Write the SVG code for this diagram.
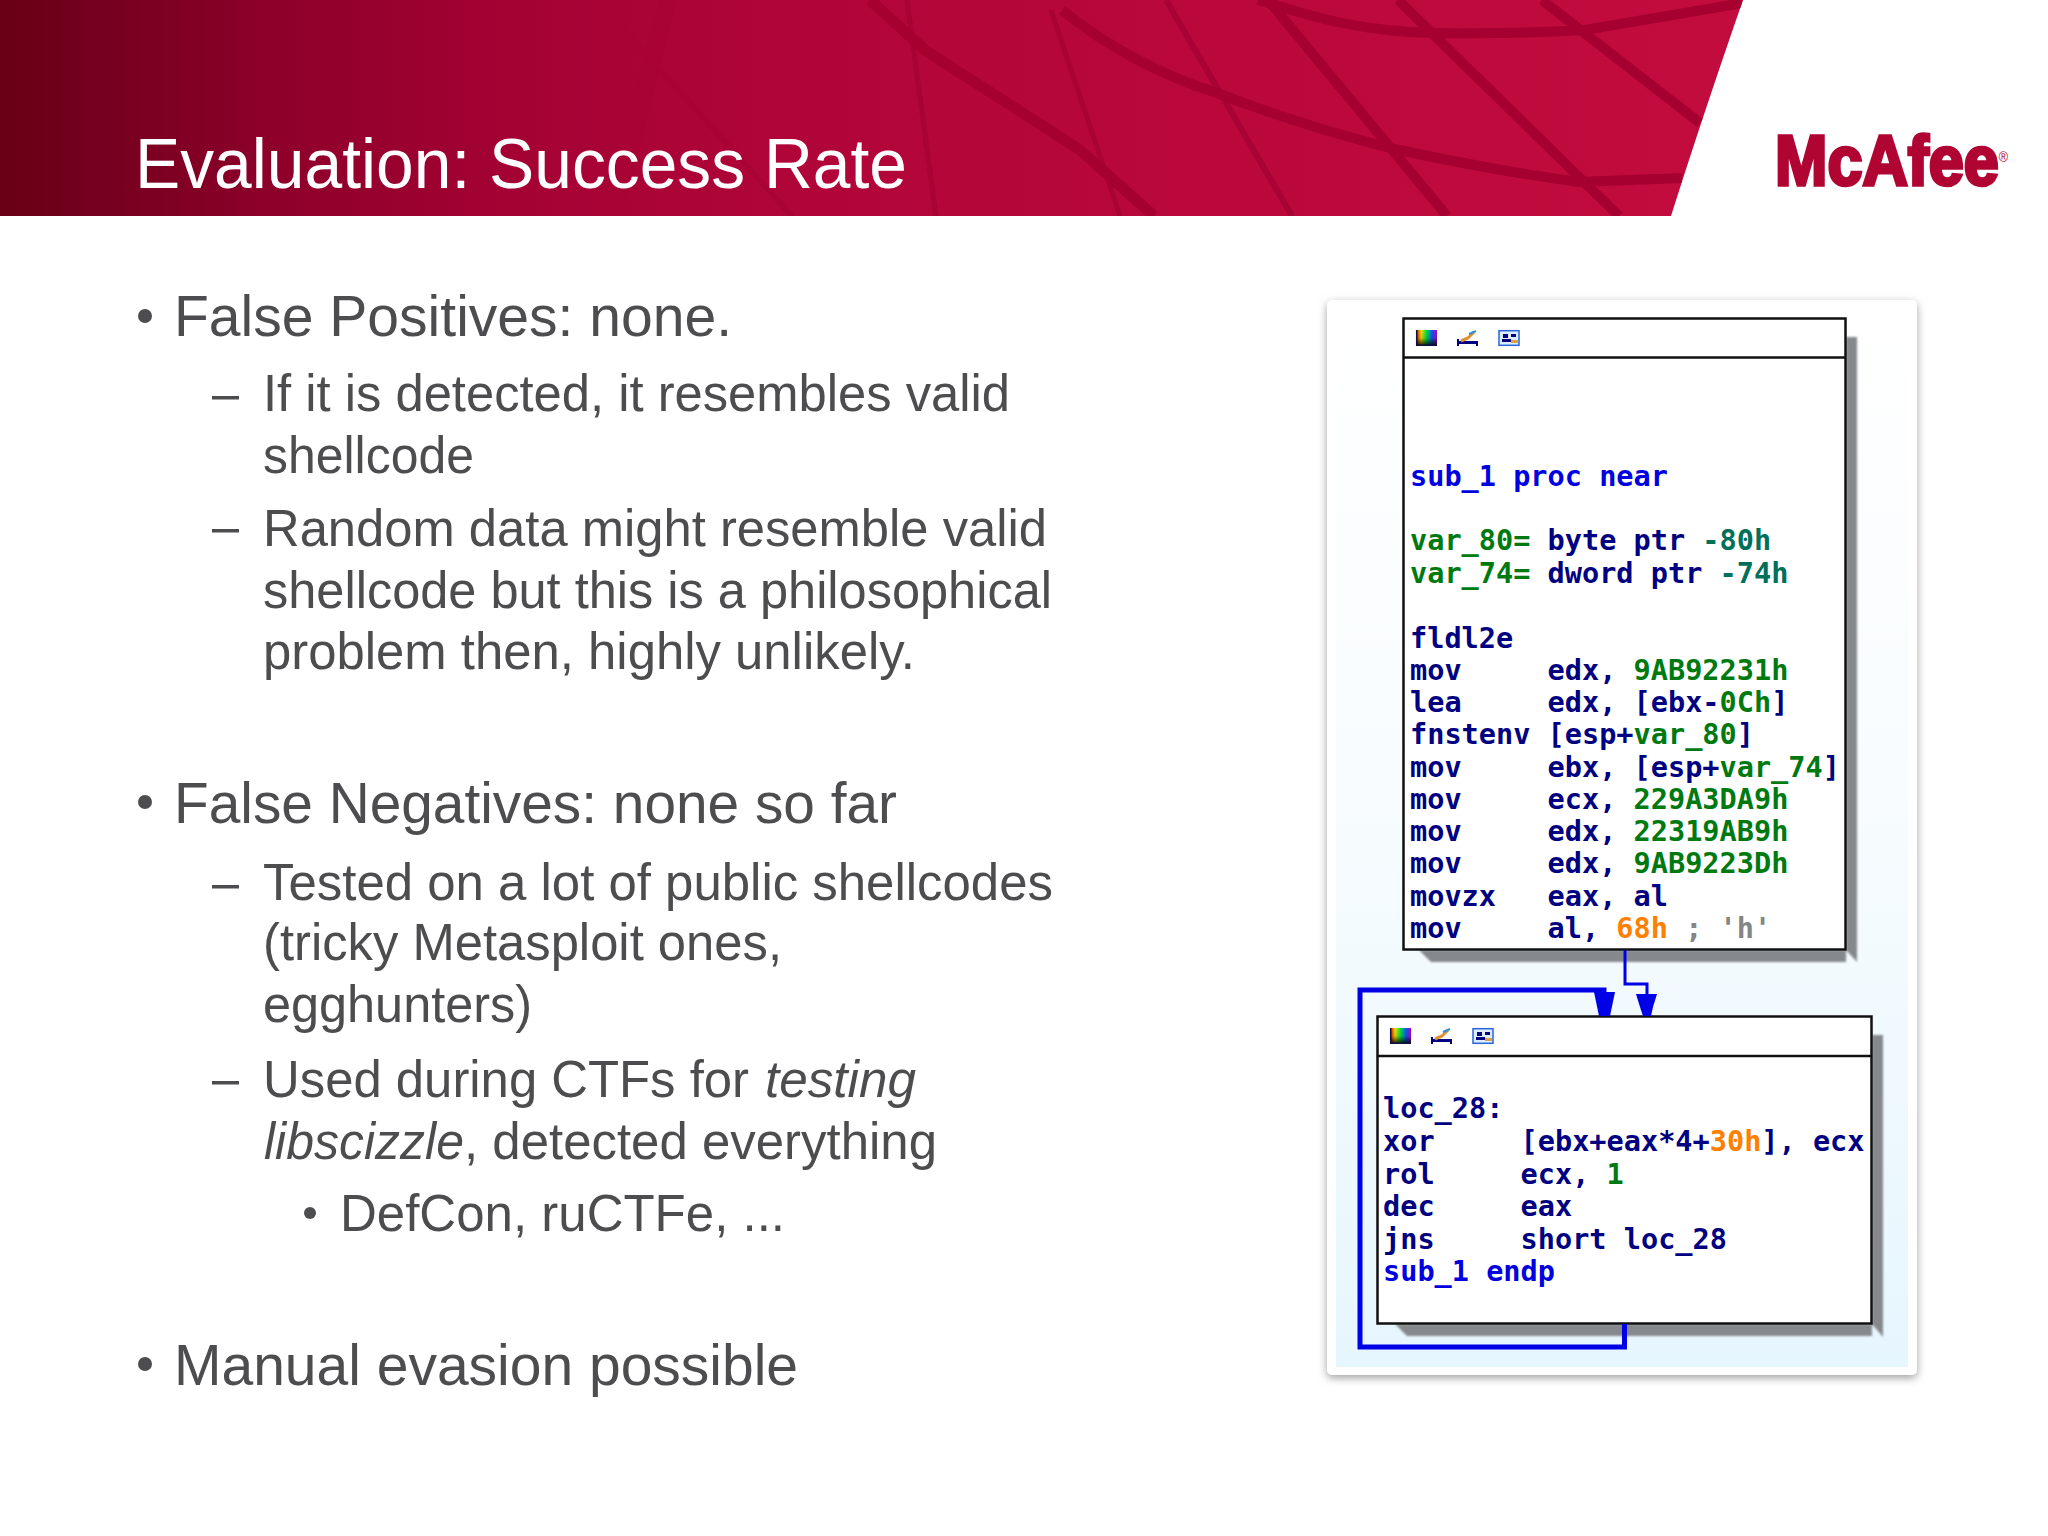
<svg xmlns="http://www.w3.org/2000/svg" width="2048" height="1536" viewBox="0 0 2048 1536">
<style>
.b{font-family:"Liberation Sans",Arial,sans-serif;fill:#4d4d4f}
.l1{font-size:57px}
.l2{font-size:52px}
.i{font-style:italic}
.c{font-family:"DejaVu Sans Mono",monospace;font-weight:bold;font-size:28.57px;white-space:pre;fill:#000080}
.bl{fill:#0000e0}.g{fill:#007a10}.t{fill:#00705a}.o{fill:#ff8000}.y{fill:#858585}
.box{fill:#fff;stroke:#111;stroke-width:2.5}
.sep{stroke:#111;stroke-width:2.5}
.sh{fill:#85888c}
.w{fill:none;stroke:#a50030}
.f{fill:none;stroke:#a90235}
.e{fill:none;stroke:#0000e6;stroke-linejoin:miter}
.ah{fill:#0000e6}
.dash{fill:#4d4d4f}
</style>
<defs>
<linearGradient id="ban" x1="0" x2="1" y1="0" y2="0">
<stop offset="0" stop-color="#680015"/><stop offset=".06" stop-color="#75001f"/><stop offset=".15" stop-color="#8c0029"/><stop offset=".3" stop-color="#a50234"/><stop offset=".45" stop-color="#b00539"/><stop offset=".7" stop-color="#ba083b"/><stop offset="1" stop-color="#c30c3e"/>
</linearGradient>
<linearGradient id="pan" x1="0" x2="0" y1="0" y2="1">
<stop offset="0" stop-color="#fff"/><stop offset=".45" stop-color="#f8fcfe"/><stop offset="1" stop-color="#e6f6fe"/>
</linearGradient>
<linearGradient id="rb" x1="0" x2="1" y1="0" y2="0">
<stop offset="0" stop-color="#e00000"/><stop offset=".25" stop-color="#f0e000"/><stop offset=".5" stop-color="#00e040"/><stop offset=".75" stop-color="#0060f0"/><stop offset="1" stop-color="#b000d0"/>
</linearGradient>
<linearGradient id="fade" x1="0" x2="0" y1="0" y2="1">
<stop offset="0" stop-color="#000" stop-opacity="0"/><stop offset=".5" stop-color="#000" stop-opacity=".1"/><stop offset="1" stop-color="#000" stop-opacity=".9"/>
</linearGradient>
<filter id="ds" x="-5%" y="-5%" width="110%" height="110%"><feDropShadow dx="0" dy="3" stdDeviation="4" flood-color="#777" flood-opacity=".7"/></filter>
<filter id="soft" x="-5%" y="-5%" width="110%" height="110%"><feGaussianBlur stdDeviation="1.2"/></filter>
<clipPath id="bc"><path d="M0 0H1743Q1703 115 1671 216H0Z"/></clipPath>
<g id="icons">
<rect x="0" y="0" width="21" height="16" fill="url(#rb)"/><rect x="0" y="0" width="21" height="16" fill="url(#fade)"/>
<path d="M0.7 0V15.3H21" fill="none" stroke="#101040" stroke-width="1.5"/>
<path d="M41 9V16H43V14H60V16H62V11H43V9Z" fill="#000080"/>
<path d="M45 11L52 8L58 2" fill="none" stroke="#e09030" stroke-width="3"/><path d="M53 4L60 1" fill="none" stroke="#3090d0" stroke-width="2"/>
<rect x="83" y="0.7" width="20" height="14.6" fill="#dcecff" stroke="#2a66d8" stroke-width="1.5"/>
<rect x="87" y="4" width="5" height="4" fill="#000080"/><rect x="95" y="4" width="5" height="3" fill="#000080"/><rect x="86" y="9" width="9" height="3" fill="#000080"/><rect x="95" y="10" width="7" height="3" fill="#e0a040"/>
</g>
</defs>
<rect width="2048" height="1536" fill="#fff"/>

<g id="banner">
<path d="M0 0H1743Q1703 115 1671 216H0Z" fill="url(#ban)"/>
<g clip-path="url(#bc)">
<path class="f" stroke-width="18" d="M668 0L612 216"/>
<path class="f" stroke-width="5" d="M597 0L792 216"/>
<path class="f" stroke-width="5" d="M907 0L936 216"/>
<path class="f" stroke-width="5" d="M1051 10L1120 216"/>
<path class="f" stroke-width="6" d="M1166 0L1292 216"/>
<path class="w" stroke-width="11" d="M870 0L925 50L1080 150L1154 216"/>
<path class="w" stroke-width="10" d="M1258 0L1309 15Q1370 32 1436 33Q1520 34 1585 30L1743 3"/>
<path class="w" stroke-width="10" d="M1062 10Q1130 65 1217 93Q1300 125 1390 148Q1490 170 1579 182Q1630 180 1682 178"/>
<path class="w" stroke-width="10" d="M1268 0L1447 216"/>
<path class="w" stroke-width="10" d="M1398 0L1619 216"/>
<path class="w" stroke-width="10" d="M1542 0L1700 123"/>
</g>
<text id="title" x="135" y="188" font-family="Liberation Sans,Arial,sans-serif" font-size="71" fill="#fff" textLength="772" lengthAdjust="spacingAndGlyphs">Evaluation: Success Rate</text>
<text id="logo" x="1775" y="185" font-family="Liberation Sans,Arial,sans-serif" font-weight="bold" font-size="70" fill="#b00533" stroke="#b00533" stroke-width="3.5" textLength="233" lengthAdjust="spacingAndGlyphs">McAfee<tspan font-size="14" font-weight="normal" stroke="none" dy="-23">®</tspan></text>
</g>

<g id="bullets">
<circle class="dash" cx="145" cy="316" r="7"/>
<text class="b l1" x="174" y="336" textLength="558" lengthAdjust="spacingAndGlyphs">False Positives: none.</text>
<rect class="dash" x="212" y="396" width="27" height="3.5"/>
<text class="b l2" x="263" y="411" textLength="747" lengthAdjust="spacingAndGlyphs">If it is detected, it resembles valid</text>
<text class="b l2" x="263" y="473" textLength="211" lengthAdjust="spacingAndGlyphs">shellcode</text>
<rect class="dash" x="212" y="529" width="27" height="3.5"/>
<text class="b l2" x="263" y="546" textLength="784" lengthAdjust="spacingAndGlyphs">Random data might resemble valid</text>
<text class="b l2" x="263" y="608" textLength="789" lengthAdjust="spacingAndGlyphs">shellcode but this is a philosophical</text>
<text class="b l2" x="263" y="669" textLength="652" lengthAdjust="spacingAndGlyphs">problem then, highly unlikely.</text>
<circle class="dash" cx="145" cy="802" r="7"/>
<text class="b l1" x="174" y="823" textLength="723" lengthAdjust="spacingAndGlyphs">False Negatives: none so far</text>
<rect class="dash" x="212" y="885" width="27" height="3.5"/>
<text class="b l2" x="263" y="900" textLength="790" lengthAdjust="spacingAndGlyphs">Tested on a lot of public shellcodes</text>
<text class="b l2" x="263" y="960" textLength="519" lengthAdjust="spacingAndGlyphs">(tricky Metasploit ones,</text>
<text class="b l2" x="263" y="1022" textLength="269" lengthAdjust="spacingAndGlyphs">egghunters)</text>
<rect class="dash" x="212" y="1081" width="27" height="3.5"/>
<text class="b l2" x="263" y="1097" textLength="486" lengthAdjust="spacingAndGlyphs">Used during CTFs for</text>
<text class="b l2 i" x="765" y="1097" textLength="151" lengthAdjust="spacingAndGlyphs">testing</text>
<text class="b l2 i" x="264" y="1159" textLength="200" lengthAdjust="spacingAndGlyphs">libscizzle</text>
<text class="b l2" x="464" y="1159" textLength="473" lengthAdjust="spacingAndGlyphs">, detected everything</text>
<circle class="dash" cx="310" cy="1213" r="6"/>
<text class="b l2" x="340" y="1231" textLength="445" lengthAdjust="spacingAndGlyphs">DefCon, ruCTFe, ...</text>
<circle class="dash" cx="145" cy="1364" r="7"/>
<text class="b l1" x="174" y="1385" textLength="624" lengthAdjust="spacingAndGlyphs">Manual evasion possible</text>
</g>

<g id="panel">
<rect x="1327" y="300" width="590" height="1075" rx="5" fill="#fff" filter="url(#ds)"/>
<rect x="1336" y="302" width="572" height="1065" fill="url(#pan)"/>
</g>

<g id="box1">
<path class="sh" d="M1419 950H1846V337H1857V962L1846 950V962H1431Z" filter="url(#soft)"/>
<rect class="box" x="1403.5" y="318.5" width="442" height="631"/>
<path class="sep" d="M1403 357.5H1846"/>
<use href="#icons" x="1416" y="330"/>
<text class="c bl" x="1410" y="486">sub_1 proc near</text>
<text class="c" x="1410" y="550"><tspan class="g">var_80=</tspan> byte ptr <tspan class="t">-80h</tspan></text>
<text class="c" x="1410" y="583"><tspan class="g">var_74=</tspan> dword ptr <tspan class="t">-74h</tspan></text>
<text class="c" x="1410" y="648">fldl2e</text>
<text class="c" x="1410" y="680">mov     edx, <tspan class="g">9AB92231h</tspan></text>
<text class="c" x="1410" y="712">lea     edx, [ebx-<tspan class="g">0Ch</tspan>]</text>
<text class="c" x="1410" y="744">fnstenv [esp+<tspan class="g">var_80</tspan>]</text>
<text class="c" x="1410" y="777">mov     ebx, [esp+<tspan class="g">var_74</tspan>]</text>
<text class="c" x="1410" y="809">mov     ecx, <tspan class="g">229A3DA9h</tspan></text>
<text class="c" x="1410" y="841">mov     edx, <tspan class="g">22319AB9h</tspan></text>
<text class="c" x="1410" y="873">mov     edx, <tspan class="g">9AB9223Dh</tspan></text>
<text class="c" x="1410" y="906">movzx   eax, al</text>
<text class="c" x="1410" y="938">mov     al, <tspan class="o">68h</tspan> <tspan class="y">; 'h'</tspan></text>
</g>

<g id="box2">
<path class="sh" d="M1395 1324H1872V1035H1883V1337L1872 1324V1336H1407Z" filter="url(#soft)"/>
<rect class="box" x="1377.5" y="1016.5" width="494" height="307"/>
<path class="sep" d="M1377 1056H1872"/>
<use href="#icons" x="1390" y="1028"/>
<text class="c" x="1383" y="1118">loc_28:</text>
<text class="c" x="1383" y="1151">xor     [ebx+eax*4+<tspan class="o">30h</tspan>], ecx</text>
<text class="c" x="1383" y="1184">rol     ecx, <tspan class="g">1</tspan></text>
<text class="c" x="1383" y="1216">dec     eax</text>
<text class="c" x="1383" y="1249">jns     short loc_28</text>
<text class="c bl" x="1383" y="1281">sub_1 endp</text>
</g>

<g id="connectors">
<path class="e" stroke-width="3" d="M1625 950V984H1647V1000"/>
<path class="ah" d="M1636 994H1657L1653 1007L1651 1016H1643L1640 1007Z"/>
<path class="e" stroke-width="5" d="M1624.5 1324V1347H1360V990H1604V1000"/>
<path class="ah" d="M1594 992H1615L1610 1016H1599Z"/>
</g>
</svg>
